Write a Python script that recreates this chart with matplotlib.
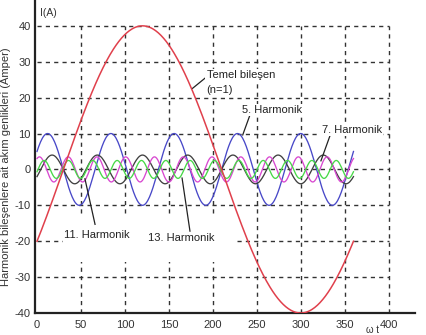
import numpy as np
import matplotlib
matplotlib.use("Agg")
import matplotlib.pyplot as plt
from matplotlib.patches import Rectangle

# ---- data ----
harmonic_orders = [1, 5, 7, 11, 13]
amplitudes = [40, 10, 4, 3.5, 2.5]          # Amper
phases_deg = [-30, 30, -30, 60, -15]        # phase of each component
colors = ["#e0404c", "#4848c8", "#404040", "#d848d0", "#48d848"]
x_ticks = [0, 50, 100, 150, 200, 250, 300, 350, 400]
y_ticks = [-40, -30, -20, -10, 0, 10, 20, 30, 40]
y_tick_labels = ["-40", "-30", "-20", "-10", "0", "10", "20", "30", "40"]

wt = np.arange(0, 361, 1.0)  # electrical angle, degrees

plt.rcParams["font.family"] = ["Liberation Sans", "DejaVu Sans"]

fig = plt.figure(figsize=(4.27, 3.35), dpi=100)
ax = fig.add_axes([35 / 427, 22 / 335, (415 - 35) / 427, 313 / 335])
ax.set_xlim(-2.3, 430)
ax.set_ylim(-40, 47.2)

grid_kw = dict(colors="#333333", linestyles=(0, (3, 3)), linewidth=1.0, zorder=1)
ax.hlines([t for t in y_ticks if t > -40], 0, 400, **grid_kw)
ax.vlines([t for t in x_ticks if t > 0], -40, 40, **grid_kw)

# white area behind lower labels
ax.add_patch(Rectangle((29.5, -25.8), 197.5, 13.1, facecolor="white",
                       edgecolor="none", zorder=2))

for n, a, p, c in zip(harmonic_orders[1:], amplitudes[1:], phases_deg[1:], colors[1:]):
    ax.plot(wt, a * np.sin(np.radians(n * wt + p)), color=c, lw=0.95, zorder=3)
ax.plot(wt, amplitudes[0] * np.sin(np.radians(harmonic_orders[0] * wt + phases_deg[0])),
        color=colors[0], lw=1.1, zorder=4)

for s in ["top", "right"]:
    ax.spines[s].set_visible(False)
for s in ["left", "bottom"]:
    ax.spines[s].set_color("#222222")
    ax.spines[s].set_linewidth(1.6)

ax.set_xticks(x_ticks)
ax.set_yticks(y_ticks)
ax.set_yticklabels(y_tick_labels)
ax.tick_params(axis="both", length=0, labelsize=8, colors="#333333")
ax.tick_params(axis="x", pad=5)
ax.tick_params(axis="y", pad=3)

tk = dict(fontsize=8, color="#222222", zorder=6,
          bbox=dict(facecolor="white", edgecolor="none", pad=1.0))
lk = dict(color="#222222", lw=0.9, zorder=5)

ax.text(193, 26.3, "Temel bileşen", ha="left", va="center", **tk)
ax.text(193, 22.0, "(n=1)", ha="left", va="center", **tk)
ax.plot([191, 177], [25.4, 22.6], **lk)

ax.text(233, 16.6, "5. Harmonik", ha="left", va="center", **tk)
ax.plot([242, 234], [15.0, 9.6], **lk)

ax.text(324, 11.0, "7. Harmonik", ha="left", va="center", **tk)
ax.plot([333, 323], [9.2, 2.4], **lk)

ax.text(31, -18.3, "11. Harmonik", ha="left", va="center", **tk)
ax.plot([66, 54.5], [-15.3, -2.6], **lk)

ax.text(126, -19.1, "13. Harmonik", ha="left", va="center", **tk)
ax.plot([174, 165], [-17.2, -2.4], **lk)

ax.text(3.5, 43.5, "I(A)", ha="left", va="center", fontsize=7.5, color="#333333")
fig.text(373 / 427, 0 / 335, "ω t", ha="center", va="bottom", fontsize=7, color="#333333")

fig.text(6 / 427, 168 / 335, "Harmonik bileşenlere ait akım genlikleri (Amper)",
         rotation=90, ha="center", va="center", fontsize=8, color="#333333")

fig.savefig("out.png", dpi=100)
